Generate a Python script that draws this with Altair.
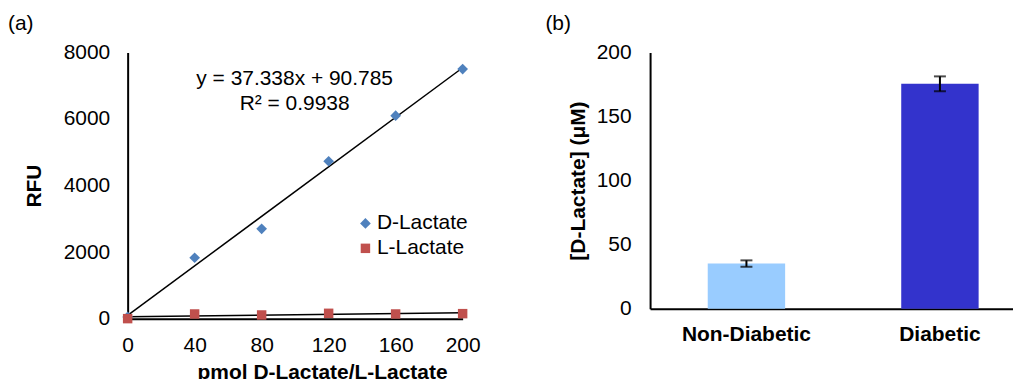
import altair as alt
import pandas as pd

# ---- data ----
pmol = [0, 40, 80, 120, 160, 200]
d_lactate = [50, 1830, 2700, 4730, 6100, 7500]
l_lactate = [0, 140, 110, 160, 140, 150]
series_names = ["D-Lactate", "L-Lactate"]
series_colors = ["#4F81BD", "#C0504D"]
x_ticks = [0, 40, 80, 120, 160, 200]
y_ticks_a = [0, 2000, 4000, 6000, 8000]
eq_lines = ["y = 37.338x + 90.785", "R² = 0.9938"]

groups = ["Non-Diabetic", "Diabetic"]
means = [35.2, 175.5]
errors = [2.5, 5.8]
bar_colors = ["#99CCFF", "#3333CC"]
y_ticks_b = [0, 50, 100, 150, 200]

FONT = "Liberation Sans"
FS = 21

# ---- panel (a) ----
rows = []
for name, vals in zip(series_names, [d_lactate, l_lactate]):
    for p, v in zip(pmol, vals):
        rows.append({"pmol": p, "rfu": v, "series": name})
df = pd.DataFrame(rows)

xa = alt.X("pmol:Q", scale=alt.Scale(domain=[0, 200], nice=False),
           axis=alt.Axis(values=x_ticks, title="pmol D-Lactate/L-Lactate", format="d",
                         labelFlush=False,
                         titleX=195, titleY=60, titleAlign="center",
                         titleBaseline="alphabetic", labelPadding=16))
ya = alt.Y("rfu:Q", scale=alt.Scale(domain=[0, 8000], nice=False),
           axis=alt.Axis(values=y_ticks_a, title="RFU", format="d", labelFlush=False,
                         titleX=-93, titleY=133.5,
                         titleAlign="center", titleBaseline="middle", titleAngle=270,
                         labelPadding=18))

trend = alt.Chart(df).transform_regression(
    "pmol", "rfu", groupby=["series"], extent=[0, 200]
).mark_line(color="black", strokeWidth=1.5).encode(x=xa, y=ya, detail="series:N")

leg = alt.Legend(title=None, orient="none", legendX=228, legendY=161,
                 labelFontSize=FS, labelFont=FONT, labelColor="black",
                 symbolSize=80, rowPadding=3, padding=0, labelOffset=1)

pts = alt.Chart(df).mark_point(filled=True, opacity=1).encode(
    x=xa, y=ya,
    color=alt.Color("series:N", scale=alt.Scale(domain=series_names, range=series_colors),
                    legend=leg),
    shape=alt.Shape("series:N", scale=alt.Scale(domain=series_names, range=["diamond", "square"]),
                    legend=leg),
    size=alt.Size("series:N", scale=alt.Scale(domain=series_names, range=[115, 90]), legend=None),
)

eq1 = alt.Chart(pd.DataFrame({"t": [eq_lines[0]]})).mark_text(
    fontSize=FS, font=FONT, color="black", align="center", baseline="middle"
).encode(text="t:N", x=alt.value(167.5), y=alt.value(27))
eq2 = alt.Chart(pd.DataFrame({"t": [eq_lines[1]]})).mark_text(
    fontSize=FS, font=FONT, color="black", align="center", baseline="middle"
).encode(text="t:N", x=alt.value(167.5), y=alt.value(52))
lab_a = alt.Chart(pd.DataFrame({"t": ["(a)"]})).mark_text(
    fontSize=FS, font=FONT, color="black", align="left", baseline="middle"
).encode(text="t:N", x=alt.value(-120), y=alt.value(-28))

panel_a = alt.layer(trend, pts, eq1, eq2, lab_a).properties(width=336, height=267)

# ---- panel (b) ----
bdf = pd.DataFrame({"group": groups, "mean": means, "err": errors})
bdf["lo"] = bdf["mean"] - bdf["err"]
bdf["hi"] = bdf["mean"] + bdf["err"]

xb = alt.X("group:N", sort=groups,
           scale=alt.Scale(paddingInner=0.6, paddingOuter=0.2378, align=0.6265),
           axis=alt.Axis(title=None, labelAngle=0, labelFontWeight="bold", labelPadding=15))
yb_axis = alt.Axis(values=y_ticks_b, title="[D-Lactate] (μM)", format="d", labelFlush=False,
                   titleX=-72, titleY=128.5,
                   titleAlign="center", titleBaseline="middle", titleAngle=270, labelPadding=19)
yb_scale = alt.Scale(domain=[0, 200], nice=False)

bars = alt.Chart(bdf).mark_bar().encode(
    x=xb,
    y=alt.Y("mean:Q", scale=yb_scale, axis=yb_axis),
    color=alt.Color("group:N", scale=alt.Scale(domain=groups, range=bar_colors), legend=None),
)
err_rule = alt.Chart(bdf).mark_rule(color="black", strokeWidth=2).encode(
    x=xb, y=alt.Y("lo:Q", scale=yb_scale, axis=yb_axis), y2="hi:Q")
cap_lo = alt.Chart(bdf).mark_tick(color="black", thickness=2, size=12).encode(
    x=xb, y=alt.Y("lo:Q", scale=yb_scale, axis=yb_axis))
cap_hi = alt.Chart(bdf).mark_tick(color="black", thickness=2, size=12).encode(
    x=xb, y=alt.Y("hi:Q", scale=yb_scale, axis=yb_axis))
lab_b = alt.Chart(pd.DataFrame({"t": ["(b)"]})).mark_text(
    fontSize=FS, font=FONT, color="black", align="left", baseline="middle"
).encode(text="t:N", x=alt.value(-105), y=alt.value(-28))

panel_b = alt.layer(bars, err_rule, cap_lo, cap_hi, lab_b).properties(width=364, height=257)

chart = alt.hconcat(panel_a, panel_b, spacing=65).resolve_scale(
    color="independent", shape="independent", size="independent"
).resolve_legend(
    color="independent", shape="independent", size="independent"
).properties(
    padding={"left": 0, "top": 5, "right": 0, "bottom": 0}
).configure_view(stroke=None).configure_axis(
    grid=False, ticks=False, domainColor="black", domainWidth=2,
    labelFont=FONT, labelFontSize=FS, labelColor="black",
    titleFont=FONT, titleFontSize=FS, titleFontWeight="bold", titleColor="black",
)

chart.save("out.html", embed_options={"renderer": "svg", "actions": False})
